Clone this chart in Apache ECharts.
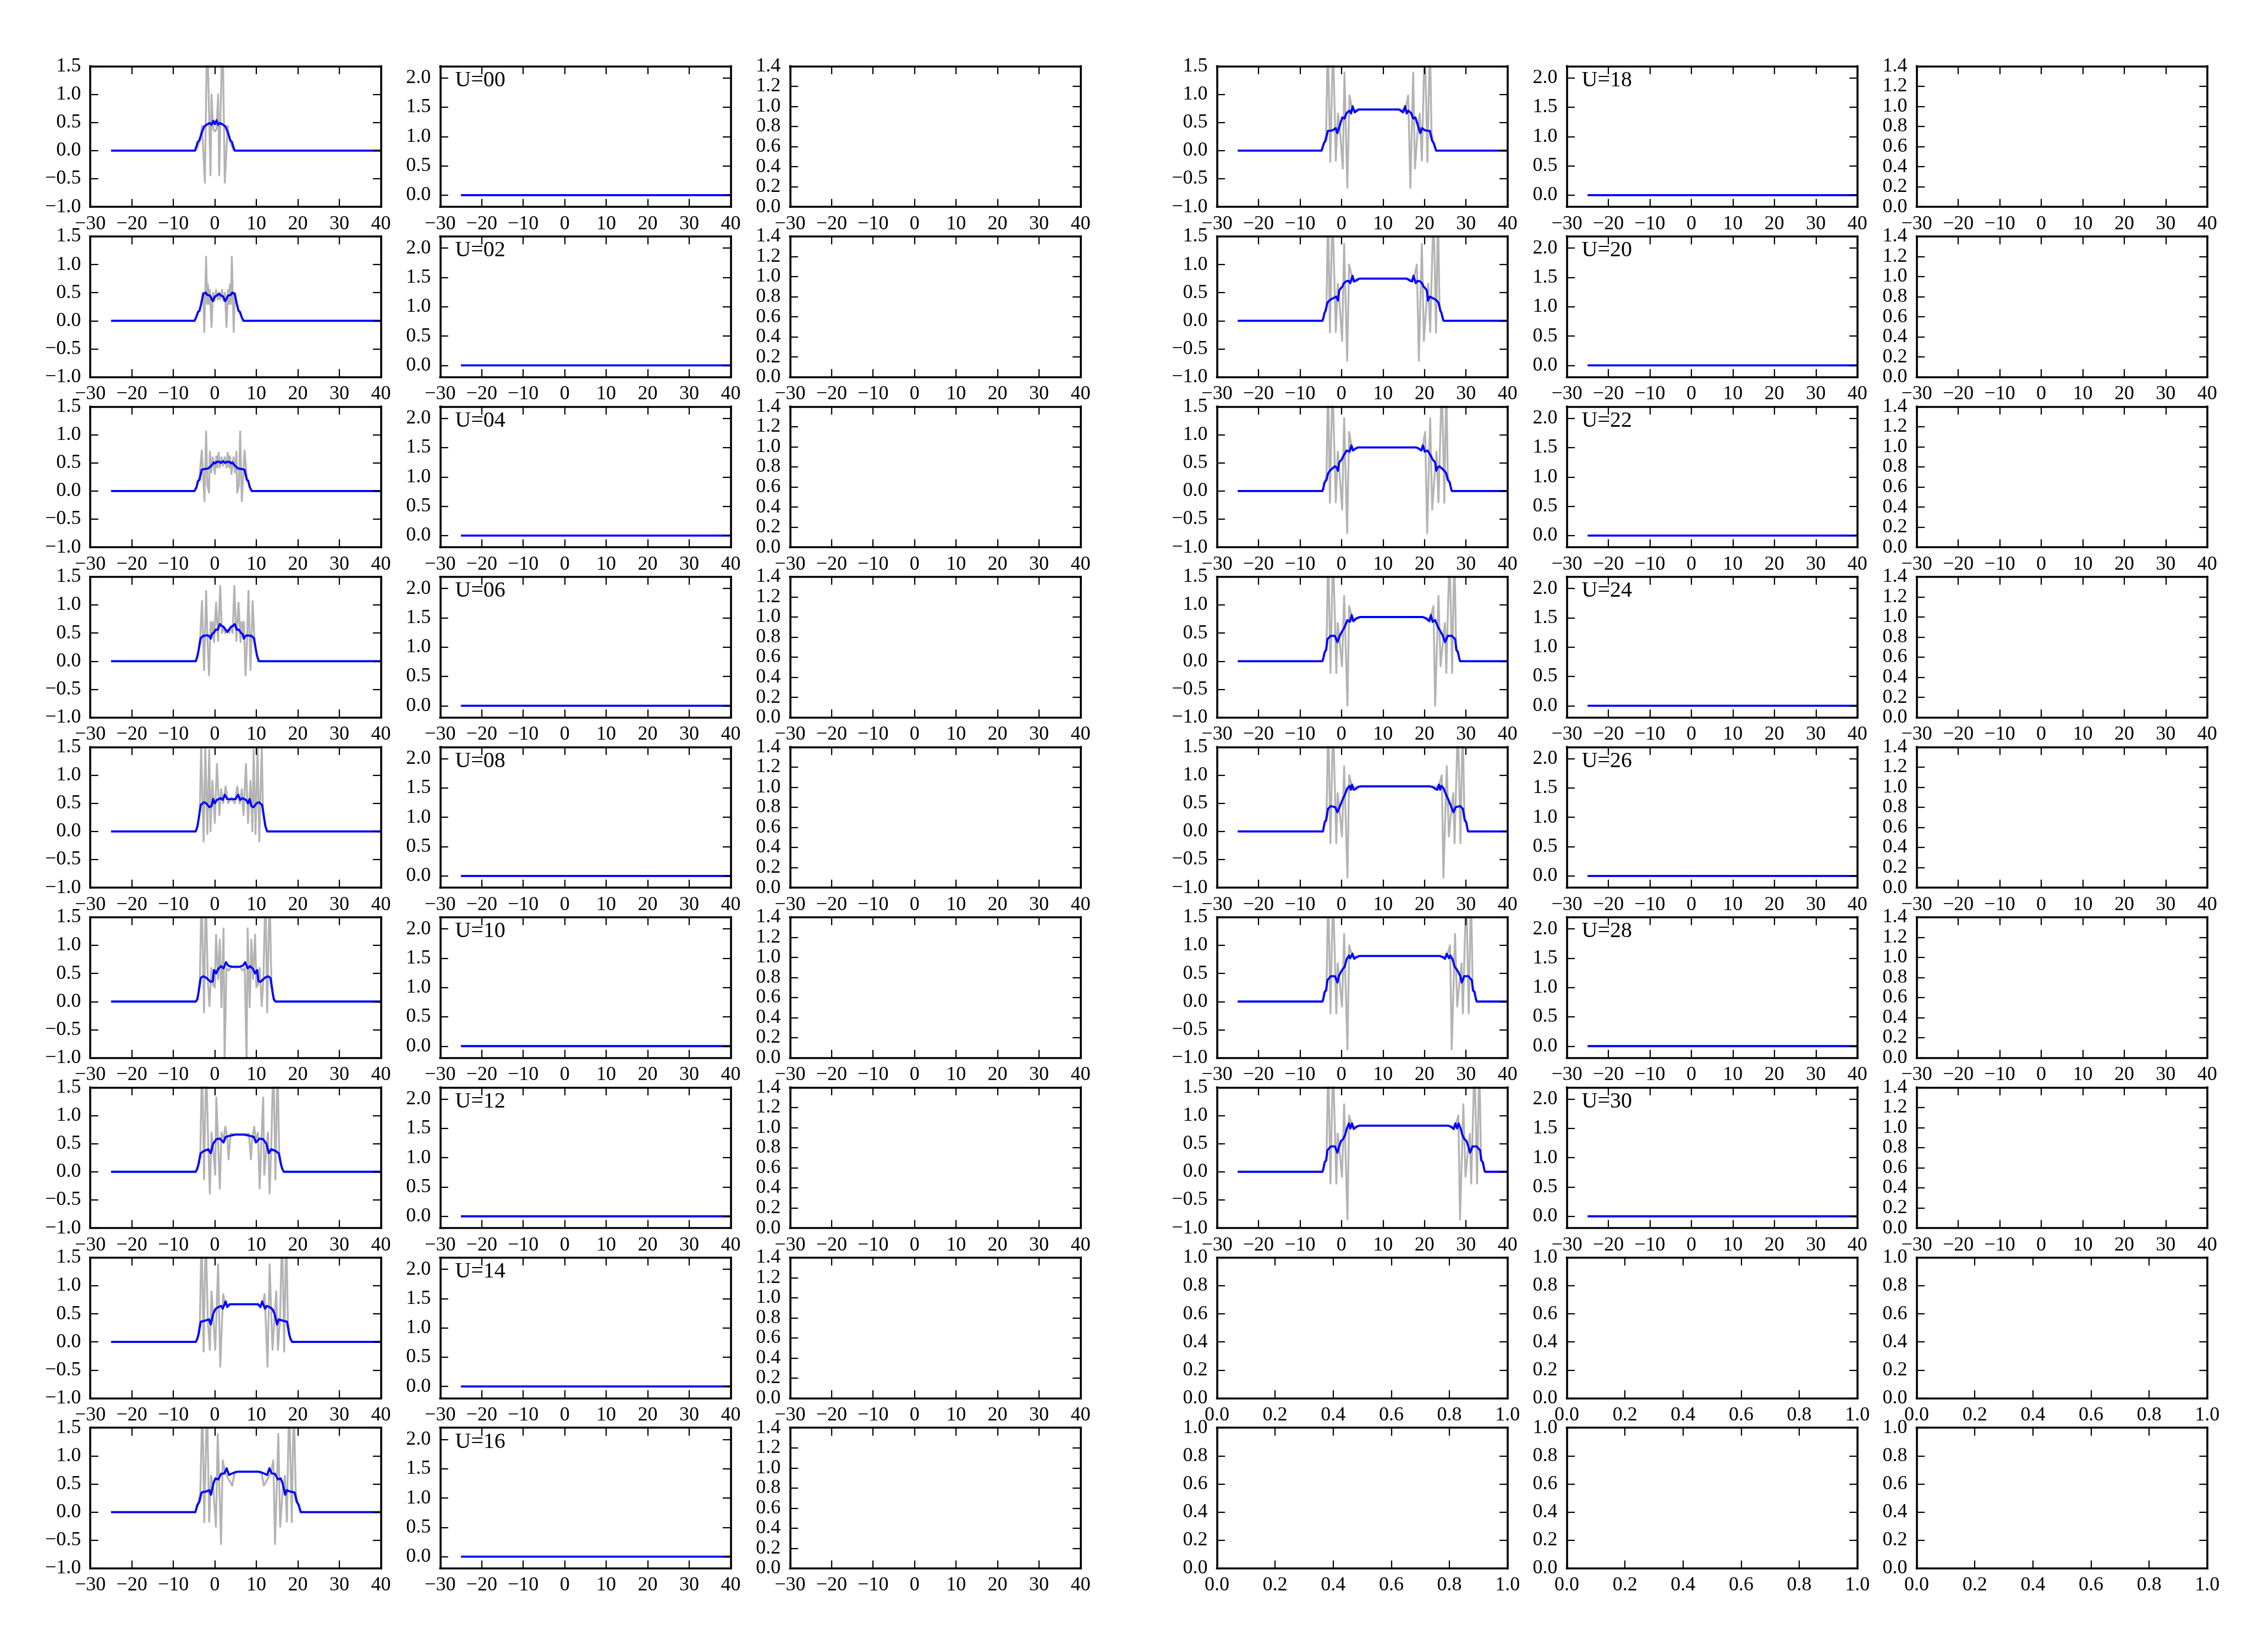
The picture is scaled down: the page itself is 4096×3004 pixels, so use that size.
<!DOCTYPE html>
<html><head><meta charset="utf-8">
<script src="https://cdn.jsdelivr.net/npm/echarts@6/dist/echarts.min.js"></script>
<style>html,body{margin:0;padding:0;background:#fff}#c{width:4096px;height:3004px}</style>
</head><body><div id="c"></div><script>
// ---------------- DATA ----------------
const uLabels = ['U=00','U=02','U=04','U=06','U=08','U=10','U=12','U=14','U=16','U=18','U=20','U=22','U=24','U=26','U=28','U=30'];
const xTicks = [-30,-20,-10,0,10,20,30,40];
const yTicksLabelPanel = [0,0.5,1,1.5,2];
const zeroLine = [[-25,0],[40,0]];

const blueU00 = [[-25,0],[-4.8,0],[-4.4,0.08],[-4.15,0.15],[-3.75,0.18],[-3.2,0.31],[-2.55,0.43],[-1.75,0.47],[-1.2,0.49],[-0.8,0.46],[-0.4,0.53],[0,0.47],[0.4,0.54],[0.8,0.46],[1.2,0.49],[1.75,0.47],[2.55,0.43],[3.2,0.31],[3.75,0.18],[4.15,0.15],[4.4,0.08],[4.8,0],[40,0]];
const grayU00 = [[-25,0],[-4.8,0],[-4.4,0.02],[-3.9,0.12],[-3.5,0.2],[-3.1,0.44],[-2.4,-0.57],[-1.85,2.2],[-1.05,-0.44],[-0.8,1.0],[-0.4,0.38],[0,0.34],[0.4,0.38],[0.8,1.0],[1.05,-0.44],[1.85,2.2],[2.4,-0.57],[3.1,0.44],[3.5,0.2],[3.9,0.12],[4.4,0.02],[4.8,0],[40,0]];

const blueU02 = [[-25,0],[-4.9,0],[-4.45,0.07],[-4.05,0.16],[-3.7,0.18],[-3.3,0.3],[-2.8,0.48],[-2.2,0.5],[-1.8,0.46],[-1.2,0.45],[-0.5,0.35],[0,0.43],[0.5,0.45],[1.0,0.48],[1.5,0.45],[2.0,0.43],[2.5,0.35],[3.2,0.45],[3.8,0.46],[4.2,0.5],[4.8,0.48],[5.3,0.3],[5.7,0.18],[6.05,0.16],[6.45,0.07],[6.9,0],[40,0]];
const grayU02 = [[-25,0],[-4.9,0],[-4.3,0.1],[-3.6,0.2],[-3.1,0.35],[-2.8,0.5],[-2.55,-0.2],[-2.1,1.14],[-1.85,0.3],[-1.65,0.65],[-1.45,0.3],[-1.2,0.55],[-0.8,-0.11],[-0.45,0.5],[-0.1,0.35],[0.3,0.55],[0.7,0.38],[1.0,0.5],[1.3,0.38],[1.7,0.55],[2.1,0.35],[2.45,0.5],[2.8,-0.11],[3.2,0.55],[3.45,0.3],[3.65,0.65],[3.85,0.3],[4.1,1.14],[4.55,-0.2],[4.8,0.5],[5.1,0.35],[5.6,0.2],[6.3,0.1],[6.9,0],[40,0]];

const blueU04 = [[-25,0],[-4.9,0],[-4.45,0.06],[-4.05,0.18],[-3.7,0.2],[-3.15,0.38],[-2.4,0.39],[-1.6,0.40],[-1.0,0.44],[-0.6,0.47],[-0.2,0.51],[0.1,0.49],[0.5,0.52],[1.0,0.52],[1.5,0.5],[2.0,0.53],[2.5,0.5],[3.0,0.52],[3.5,0.52],[3.9,0.49],[4.2,0.51],[4.6,0.47],[5.0,0.44],[5.6,0.4],[6.4,0.39],[7.15,0.38],[7.7,0.2],[8.05,0.18],[8.45,0.06],[8.9,0],[40,0]];
const grayU04 = [[-25,0],[-4.9,0],[-4.3,0.1],[-3.7,0.25],[-3.15,0.72],[-2.5,-0.18],[-2.1,1.06],[-1.8,0.1],[-1.4,-0.03],[-1.2,0.7],[-0.85,0.33],[-0.5,0.6],[0,0.3],[0.35,0.62],[0.6,0.42],[0.9,0.68],[1.2,0.42],[1.6,0.6],[2.0,0.45],[2.4,0.6],[2.8,0.42],[3.1,0.68],[3.4,0.42],[3.65,0.62],[4.0,0.3],[4.5,0.6],[4.85,0.33],[5.2,0.7],[5.4,-0.03],[5.8,0.1],[6.1,1.06],[6.5,-0.18],[7.15,0.72],[7.7,0.25],[8.3,0.1],[8.9,0],[40,0]];

const blueU06 = [[-25,0],[-4.6,0],[-4.2,0.09],[-3.9,0.2],[-3.4,0.41],[-2.8,0.45],[-1.8,0.46],[-1.4,0.45],[-1.0,0.40],[-0.7,0.48],[-0.2,0.51],[0.2,0.56],[0.7,0.56],[1.2,0.66],[1.6,0.63],[2.1,0.61],[3.0,0.52],[3.9,0.61],[4.4,0.63],[4.8,0.66],[5.3,0.56],[5.8,0.56],[6.2,0.51],[6.7,0.48],[7.0,0.40],[7.4,0.45],[7.8,0.46],[8.8,0.45],[9.4,0.41],[9.9,0.2],[10.2,0.09],[10.6,0],[40,0]];
const grayU06 = [[-25,0],[-4.6,0],[-4.1,0.1],[-3.5,0.45],[-3.1,1.07],[-2.6,-0.16],[-2.1,1.25],[-1.75,0.35],[-1.4,-0.25],[-1.0,0.7],[-0.7,0.45],[-0.45,0.7],[-0.2,0.34],[0.3,1.04],[0.8,0.36],[1.3,1.34],[1.7,0.5],[2.1,0.62],[2.5,0.5],[3.0,0.55],[3.5,0.5],[3.9,0.62],[4.3,0.5],[4.7,1.34],[5.2,0.36],[5.7,1.04],[6.2,0.34],[6.45,0.7],[6.7,0.45],[7.0,0.7],[7.4,-0.25],[7.75,0.35],[8.1,1.25],[8.6,-0.16],[9.1,1.07],[9.5,0.45],[10.1,0.1],[10.6,0],[40,0]];

const blueU08 = [[-25,0],[-4.6,0],[-4.2,0.09],[-3.9,0.22],[-3.4,0.47],[-2.6,0.52],[-2.1,0.5],[-1.3,0.43],[-0.8,0.45],[-0.4,0.575],[0,0.5],[0.5,0.56],[1.4,0.59],[1.9,0.56],[2.4,0.65],[3.0,0.575],[4.0,0.57],[5.0,0.575],[5.6,0.65],[6.1,0.56],[6.6,0.59],[7.5,0.56],[8.0,0.5],[8.4,0.575],[8.8,0.45],[9.3,0.43],[10.1,0.5],[10.6,0.52],[11.4,0.47],[11.9,0.22],[12.2,0.09],[12.6,0],[40,0]];
const grayU08 = [[-25,0],[-4.6,0],[-4.1,0.1],[-3.6,0.4],[-3.3,1.5],[-2.7,-0.18],[-2.3,1.5],[-1.8,-0.05],[-1.35,1.45],[-1.05,0.0],[-0.6,0.9],[0,0.15],[0.5,1.2],[1.1,0.29],[1.5,0.75],[2.0,0.5],[2.6,0.8],[3.2,0.5],[4.0,0.6],[4.8,0.5],[5.4,0.8],[6.0,0.5],[6.5,0.75],[6.9,0.29],[7.5,1.2],[8.0,0.15],[8.6,0.9],[9.05,0.0],[9.35,1.45],[9.8,-0.05],[10.3,1.5],[10.7,-0.18],[11.3,1.5],[11.6,0.4],[12.1,0.1],[12.6,0],[40,0]];

const blueU10 = [[-25,0],[-4.6,0],[-4.2,0.04],[-3.9,0.17],[-3.4,0.42],[-2.8,0.45],[-2.0,0.42],[-1.0,0.35],[-0.5,0.36],[-0.2,0.56],[0.3,0.5],[0.8,0.58],[1.5,0.63],[2.1,0.59],[2.7,0.70],[3.2,0.64],[4.0,0.62],[5.0,0.62],[6.0,0.62],[6.8,0.64],[7.3,0.70],[7.9,0.59],[8.5,0.63],[9.2,0.58],[9.7,0.5],[10.2,0.56],[10.5,0.36],[11.0,0.35],[12.0,0.42],[12.8,0.45],[13.4,0.42],[13.9,0.17],[14.2,0.04],[14.6,0],[40,0]];
const grayU10 = [[-25,0],[-4.6,0],[-4.1,0.1],[-3.6,0.4],[-3.2,2.0],[-2.6,-0.19],[-2.2,2.0],[-1.7,0.4],[-1.3,-0.08],[-0.8,0.6],[-0.4,0.3],[0,0.25],[0.3,1.19],[0.8,0.4],[1.2,1.1],[1.6,-0.1],[2.1,1.3],[2.35,-1.1],[2.8,0.6],[3.3,0.55],[4.0,0.62],[5.0,0.6],[6.0,0.62],[6.7,0.55],[7.2,0.6],[7.65,-1.1],[7.9,1.3],[8.4,-0.1],[8.8,1.1],[9.2,0.4],[9.7,1.19],[10.0,0.25],[10.4,0.3],[10.8,0.6],[11.3,-0.08],[11.7,0.4],[12.2,2.0],[12.6,-0.19],[13.2,2.0],[13.6,0.4],[14.1,0.1],[14.6,0],[40,0]];

const blueU12 = [[-25,0],[-4.6,0],[-4.2,0.06],[-3.9,0.14],[-3.4,0.33],[-2.6,0.37],[-1.6,0.40],[-1.0,0.33],[-0.4,0.5],[0.4,0.58],[1.2,0.59],[2.1,0.52],[2.6,0.62],[3.6,0.64],[5.0,0.66],[6.0,0.66],[7.0,0.66],[8.4,0.64],[9.4,0.62],[9.9,0.52],[10.8,0.59],[11.6,0.58],[12.4,0.5],[13.0,0.33],[13.6,0.40],[14.6,0.37],[15.4,0.33],[15.9,0.14],[16.2,0.06],[16.6,0],[40,0]];
const grayU12 = [[-25,0],[-4.6,0],[-4.1,0.1],[-3.5,0.35],[-3.1,2.0],[-2.6,-0.14],[-2.1,2.0],[-1.6,0.5],[-1.2,-0.39],[-0.8,0.7],[-0.4,0.4],[0.1,-0.05],[0.35,1.32],[0.8,0.5],[1.2,-0.3],[1.6,0.7],[2.1,0.55],[2.5,0.8],[3.0,0.6],[3.3,0.22],[3.8,0.68],[5,0.66],[7,0.66],[8.2,0.68],[8.7,0.22],[9.0,0.6],[9.5,0.8],[9.9,0.55],[10.4,0.7],[10.8,-0.3],[11.2,0.5],[11.65,1.32],[11.9,-0.05],[12.4,0.4],[12.8,0.7],[13.2,-0.39],[13.6,0.5],[14.1,2.0],[14.6,-0.14],[15.1,2.0],[15.5,0.35],[16.1,0.1],[16.6,0],[40,0]];

const blueU14 = [[-25,0],[-4.6,0],[-4.2,0.06],[-3.9,0.14],[-3.4,0.36],[-2.8,0.37],[-1.4,0.4],[-1.0,0.31],[-0.4,0.5],[0.1,0.58],[0.8,0.62],[1.5,0.64],[1.9,0.59],[2.6,0.72],[3.0,0.62],[3.6,0.67],[4.5,0.67],[9.5,0.67],[10.4,0.67],[11.0,0.62],[11.4,0.72],[12.1,0.59],[12.5,0.64],[13.2,0.62],[13.9,0.58],[14.4,0.5],[15.0,0.31],[15.4,0.4],[16.8,0.37],[17.4,0.36],[17.9,0.14],[18.2,0.06],[18.6,0],[40,0]];
const grayU14 = [[-25,0],[-4.6,0],[-4.1,0.1],[-3.6,0.35],[-3.2,2.0],[-2.7,-0.17],[-2.2,2.0],[-1.7,0.4],[-1.2,-0.14],[-0.8,0.9],[-0.4,0.45],[0.1,-0.14],[0.8,1.38],[1.3,-0.44],[2.0,0.85],[2.4,0.7],[3.0,0.65],[3.6,0.67],[10.4,0.67],[11.0,0.65],[11.6,0.7],[12.0,0.85],[12.7,-0.44],[13.2,1.38],[13.9,-0.14],[14.4,0.45],[14.8,0.9],[15.2,-0.14],[15.7,0.4],[16.2,2.0],[16.7,-0.17],[17.2,2.0],[17.6,0.35],[18.1,0.1],[18.6,0],[40,0]];

const blueU16 = [[-25,0],[-4.7,0],[-4.2,0.13],[-3.75,0.18],[-3.2,0.35],[-2.0,0.37],[-1.35,0.39],[-0.95,0.31],[-0.3,0.52],[0.15,0.6],[0.8,0.58],[1.5,0.68],[2.3,0.69],[2.85,0.78],[3.4,0.66],[4.2,0.69],[5.5,0.72],[10.5,0.72],[11.8,0.69],[12.6,0.66],[13.15,0.78],[13.7,0.69],[14.5,0.68],[15.2,0.58],[15.85,0.6],[16.3,0.52],[16.95,0.31],[17.35,0.39],[18.0,0.37],[19.2,0.35],[19.75,0.18],[20.2,0.13],[20.7,0],[40,0]];
const grayU16 = [[-25,0],[-4.7,0],[-4.1,0.12],[-3.5,0.35],[-3.0,2.0],[-2.55,-0.18],[-1.9,2.0],[-1.36,-0.17],[-0.9,0.65],[-0.4,0.45],[0.26,-0.26],[0.7,1.39],[1.5,-0.57],[1.9,0.92],[2.5,0.7],[3.2,0.6],[4.2,0.47],[4.8,0.72],[11.2,0.72],[11.8,0.47],[12.8,0.6],[13.5,0.7],[14.1,0.92],[14.5,-0.57],[15.3,1.39],[15.74,-0.26],[16.4,0.45],[16.9,0.65],[17.36,-0.17],[17.9,2.0],[18.55,-0.18],[19.0,2.0],[19.5,0.35],[20.1,0.12],[20.7,0],[40,0]];

const blueU18 = [[-25,0],[-4.8,0],[-4.25,0.13],[-3.8,0.18],[-3.3,0.35],[-2.15,0.36],[-1.4,0.40],[-1.0,0.31],[-0.1,0.52],[0.2,0.59],[0.7,0.57],[1.25,0.67],[1.9,0.71],[2.3,0.66],[2.65,0.79],[3.2,0.68],[4.1,0.73],[5,0.73],[13,0.73],[13.9,0.73],[14.8,0.68],[15.35,0.79],[15.7,0.66],[16.1,0.71],[16.75,0.67],[17.3,0.57],[17.8,0.59],[18.1,0.52],[19.0,0.31],[19.4,0.40],[20.15,0.36],[21.3,0.35],[21.8,0.18],[22.25,0.13],[22.8,0],[40,0]];
const grayU18 = [[-25,0],[-4.8,0],[-4.2,0.12],[-3.7,0.3],[-3.3,2.0],[-2.7,-0.2],[-2.05,2.0],[-1.37,-0.18],[-0.85,0.66],[-0.4,0.4],[0.3,-0.32],[0.72,1.39],[1.4,-0.66],[1.93,0.98],[2.4,0.8],[2.9,0.7],[3.5,0.73],[14.5,0.73],[15.1,0.7],[15.6,0.8],[16.07,0.98],[16.6,-0.66],[17.28,1.39],[17.7,-0.32],[18.4,0.4],[18.85,0.66],[19.37,-0.18],[20.05,2.0],[20.7,-0.2],[21.3,2.0],[21.7,0.3],[22.2,0.12],[22.8,0],[40,0]];

const blueU20 = [[-25,0],[-4.6,0],[-4.4,0.04],[-4.1,0.14],[-3.8,0.18],[-3.4,0.32],[-2.8,0.37],[-1.8,0.41],[-1.3,0.43],[-0.85,0.36],[-0.55,0.54],[-0.15,0.58],[0.25,0.61],[0.5,0.66],[1.05,0.70],[1.65,0.71],[2.1,0.67],[2.65,0.80],[3.0,0.70],[3.45,0.71],[4.3,0.75],[15.7,0.75],[16.55,0.71],[17.0,0.70],[17.35,0.80],[17.9,0.67],[18.35,0.71],[18.95,0.70],[19.5,0.66],[19.75,0.61],[20.15,0.58],[20.55,0.54],[20.85,0.36],[21.3,0.43],[21.8,0.41],[22.8,0.37],[23.4,0.32],[23.8,0.18],[24.1,0.14],[24.4,0.04],[24.6,0],[40,0]];
const grayU20 = [[-25,0],[-4.6,0],[-4.1,0.12],[-3.6,0.3],[-3.25,2.0],[-2.78,-0.21],[-2.18,2.0],[-1.37,-0.2],[-0.89,0.66],[-0.5,0.35],[0.15,-0.36],[0.64,1.37],[1.36,-0.71],[1.84,1.0],[2.3,0.85],[2.8,0.7],[3.4,0.74],[4.2,0.75],[15.8,0.75],[16.6,0.74],[17.2,0.7],[17.7,0.85],[18.16,1.0],[18.64,-0.71],[19.36,1.37],[19.85,-0.36],[20.5,0.35],[20.89,0.66],[21.37,-0.2],[22.18,2.0],[22.78,-0.21],[23.25,2.0],[23.6,0.3],[24.1,0.12],[24.6,0],[40,0]];

const blueU22 = [[-25,0],[-4.6,0],[-4.4,0.04],[-4.1,0.15],[-3.6,0.2],[-3.25,0.31],[-2.8,0.36],[-1.6,0.44],[-1.2,0.42],[-0.85,0.36],[-0.55,0.51],[0.05,0.56],[0.5,0.63],[1.25,0.72],[1.95,0.70],[2.35,0.81],[2.75,0.72],[3.15,0.74],[3.9,0.775],[18.1,0.775],[18.85,0.74],[19.25,0.72],[19.65,0.81],[20.05,0.70],[20.75,0.72],[21.5,0.63],[21.95,0.56],[22.55,0.51],[22.85,0.36],[23.2,0.42],[23.6,0.44],[24.8,0.36],[25.25,0.31],[25.6,0.2],[26.1,0.15],[26.4,0.04],[26.6,0],[40,0]];
const grayU22 = [[-25,0],[-4.6,0],[-4.1,0.12],[-3.6,0.3],[-3.25,2.0],[-2.78,-0.21],[-2.18,2.0],[-1.37,-0.2],[-0.89,0.7],[-0.5,0.35],[0.15,-0.33],[0.64,1.3],[1.36,-0.75],[1.84,1.05],[2.3,0.85],[2.8,0.74],[3.4,0.76],[4.2,0.775],[17.8,0.775],[18.6,0.76],[19.2,0.74],[19.7,0.85],[20.16,1.05],[20.64,-0.75],[21.36,1.3],[21.85,-0.33],[22.5,0.35],[22.89,0.7],[23.37,-0.2],[24.18,2.0],[24.78,-0.21],[25.25,2.0],[25.6,0.3],[26.1,0.12],[26.6,0],[40,0]];

const blueU24 = [[-25,0],[-4.6,0],[-4.4,0.04],[-4.07,0.16],[-3.67,0.2],[-3.4,0.39],[-2.6,0.45],[-1.6,0.45],[-0.97,0.34],[-0.37,0.46],[0.23,0.54],[0.76,0.61],[1.44,0.73],[2.04,0.70],[2.45,0.82],[2.85,0.71],[3.65,0.76],[4.46,0.785],[19.54,0.785],[20.35,0.76],[21.15,0.71],[21.55,0.82],[21.96,0.70],[22.56,0.73],[23.24,0.61],[23.77,0.54],[24.37,0.46],[24.97,0.34],[25.6,0.45],[26.6,0.45],[27.4,0.39],[27.67,0.2],[28.07,0.16],[28.4,0.04],[28.6,0],[40,0]];
const grayU24 = [[-25,0],[-4.6,0],[-4.1,0.12],[-3.6,0.3],[-3.2,2.0],[-2.66,-0.21],[-2.05,2.0],[-1.25,-0.21],[-0.93,0.68],[-0.5,0.4],[0.12,-0.09],[0.64,1.16],[1.44,-0.79],[1.84,0.98],[2.3,0.85],[2.8,0.75],[3.4,0.77],[4.2,0.785],[19.8,0.785],[20.6,0.77],[21.2,0.75],[21.7,0.85],[22.16,0.98],[22.56,-0.79],[23.36,1.16],[23.88,-0.09],[24.5,0.4],[24.93,0.68],[25.25,-0.21],[26.05,2.0],[26.66,-0.21],[27.2,2.0],[27.6,0.3],[28.1,0.12],[28.6,0],[40,0]];

const blueU26 = [[-25,0],[-4.5,0],[-4.4,0.02],[-4.07,0.16],[-3.67,0.2],[-3.26,0.4],[-2.58,0.45],[-1.5,0.43],[-0.97,0.34],[-0.37,0.45],[0.23,0.56],[0.84,0.66],[1.44,0.77],[1.96,0.81],[2.24,0.74],[2.53,0.83],[2.93,0.74],[3.33,0.75],[4.05,0.79],[4.86,0.80],[21.14,0.80],[21.95,0.79],[22.67,0.75],[23.07,0.74],[23.47,0.83],[23.76,0.74],[24.04,0.81],[24.56,0.77],[25.16,0.66],[25.77,0.56],[26.37,0.45],[26.97,0.34],[27.5,0.43],[28.58,0.45],[29.26,0.4],[29.67,0.2],[30.07,0.16],[30.4,0.02],[30.5,0],[40,0]];
const grayU26 = [[-25,0],[-4.5,0],[-4.1,0.12],[-3.6,0.3],[-3.2,2.0],[-2.66,-0.21],[-2.05,2.0],[-1.25,-0.21],[-0.93,0.68],[-0.5,0.4],[0.12,-0.09],[0.64,1.16],[1.44,-0.82],[1.84,1.0],[2.3,0.87],[2.8,0.78],[3.4,0.79],[4.2,0.80],[21.8,0.80],[22.6,0.79],[23.2,0.78],[23.7,0.87],[24.16,1.0],[24.56,-0.82],[25.36,1.16],[25.88,-0.09],[26.5,0.4],[26.93,0.68],[27.25,-0.21],[28.05,2.0],[28.66,-0.21],[29.2,2.0],[29.6,0.3],[30.1,0.12],[30.5,0],[40,0]];

const blueU28 = [[-25,0],[-4.6,0],[-4.4,0.04],[-4.07,0.17],[-3.67,0.2],[-3.4,0.38],[-2.58,0.45],[-1.57,0.45],[-0.97,0.34],[-0.65,0.45],[-0.17,0.52],[0.23,0.57],[0.76,0.62],[1.24,0.75],[1.8,0.82],[2.1,0.77],[2.65,0.85],[3.05,0.76],[3.65,0.79],[4.26,0.81],[23.74,0.81],[24.35,0.79],[24.95,0.76],[25.35,0.85],[25.9,0.77],[26.2,0.82],[26.76,0.75],[27.24,0.62],[27.77,0.57],[28.17,0.52],[28.65,0.45],[28.97,0.34],[29.57,0.45],[30.58,0.45],[31.4,0.38],[31.67,0.2],[32.07,0.17],[32.4,0.04],[32.6,0],[40,0]];
const grayU28 = [[-25,0],[-4.6,0],[-4.1,0.12],[-3.6,0.3],[-3.2,2.0],[-2.66,-0.21],[-2.05,2.0],[-1.25,-0.21],[-0.93,0.68],[-0.5,0.4],[0.12,-0.09],[0.64,1.2],[1.44,-0.85],[1.84,1.0],[2.3,0.88],[2.8,0.79],[3.4,0.8],[4.2,0.81],[23.8,0.81],[24.6,0.8],[25.2,0.79],[25.7,0.88],[26.16,1.0],[26.56,-0.85],[27.36,1.2],[27.88,-0.09],[28.5,0.4],[28.93,0.68],[29.25,-0.21],[30.05,2.0],[30.66,-0.21],[31.2,2.0],[31.6,0.3],[32.1,0.12],[32.6,0],[40,0]];

const blueU30 = [[-25,0],[-4.6,0],[-4.4,0.04],[-4.07,0.17],[-3.67,0.2],[-3.4,0.38],[-2.58,0.45],[-1.57,0.45],[-0.97,0.34],[-0.6,0.44],[-0.1,0.55],[0.4,0.58],[0.9,0.66],[1.3,0.77],[1.8,0.86],[2.15,0.77],[2.55,0.86],[2.95,0.76],[3.65,0.8],[4.3,0.82],[25.7,0.82],[26.35,0.8],[27.05,0.76],[27.45,0.86],[27.85,0.77],[28.2,0.86],[28.7,0.77],[29.1,0.66],[29.6,0.58],[30.1,0.55],[30.6,0.44],[30.97,0.34],[31.57,0.45],[32.58,0.45],[33.4,0.38],[33.67,0.2],[34.07,0.17],[34.4,0.04],[34.6,0],[40,0]];
const grayU30 = [[-25,0],[-4.6,0],[-4.1,0.12],[-3.6,0.3],[-3.2,2.0],[-2.66,-0.21],[-2.05,2.0],[-1.25,-0.21],[-0.93,0.68],[-0.5,0.4],[0.12,-0.09],[0.64,1.2],[1.44,-0.85],[1.84,1.0],[2.3,0.88],[2.8,0.8],[3.4,0.81],[4.2,0.82],[25.8,0.82],[26.6,0.81],[27.2,0.8],[27.7,0.88],[28.16,1.0],[28.56,-0.85],[29.36,1.2],[29.88,-0.09],[30.5,0.4],[30.93,0.68],[31.25,-0.21],[32.05,2.0],[32.66,-0.21],[33.2,2.0],[33.6,0.3],[34.1,0.12],[34.6,0],[40,0]];

const blueSeries = [blueU00,blueU02,blueU04,blueU06,blueU08,blueU10,blueU12,blueU14,blueU16,blueU18,blueU20,blueU22,blueU24,blueU26,blueU28,blueU30];
const graySeries = [grayU00,grayU02,grayU04,grayU06,grayU08,grayU10,grayU12,grayU14,grayU16,grayU18,grayU20,grayU22,grayU24,grayU26,grayU28,grayU30];

// ---------------- LAYOUT / STYLE ----------------
const S = 4096/4500;
const colLeft = [180.4, 879.2, 1578.0, 2430.7, 3129.5, 3828.3];
const rowTop0 = 132.3, rowStep = 340, plotW = 580.3, plotH = 281;
const FONT = 'Liberation Serif', FS = 36;
const BLUE = '#0000ff', GRAY = '#b3b3b3';

const RX = {min:-30, max:40, interval:10, dec:0};
const RY_DATA = {min:-1, max:1.5, interval:0.5, dec:1};
const RY_LAB = {min:-0.2, max:2.2, custom:yTicksLabelPanel, dec:1};
const RY_EMPTY = {min:0, max:1.4, interval:0.2, dec:1};
const R_UNIT = {min:0, max:1, interval:0.2, dec:1};

function fmt(v, dec){
  let s = dec ? Number(v).toFixed(dec) : String(Math.round(v));
  if (s === '-0.0' || s === '-0') s = s.slice(1);
  return s.replace('-', '\u2212');
}

const grids=[], xAxes=[], yAxes=[], series=[], graphics=[];
function makeAxis(gi, pos, r){
  const isX = (pos==='bottom'||pos==='top');
  const showLab = (pos==='bottom'||pos==='left');
  const a = {gridIndex:gi, type:'value', position:pos, min:r.min, max:r.max, z:10,
    axisLine:{show:true, onZero:false, lineStyle:{color:'#000', width:3.6, cap:'square'}},
    axisTick:{show:true, inside:true, length:14.5, lineStyle:{color:'#000', width:2.2}},
    splitLine:{show:false},
    axisLabel:{show:showLab, margin: isX?13:17, color:'#000', fontFamily:FONT, fontSize:FS,
      showMinLabel:true, showMaxLabel:true, hideOverlap:false, formatter:(v)=>fmt(v, r.dec)}};
  if (r.custom){ a.axisTick.customValues = r.custom; a.axisLabel.customValues = r.custom; }
  else a.interval = r.interval;
  return a;
}
function addPanel(col, row, xr, yr, lines, label){
  const gi = grids.length;
  const left = colLeft[col]*S, top = (rowTop0 + row*rowStep)*S;
  grids.push({left:left, top:top, width:plotW*S, height:plotH*S, show:false, containLabel:false});
  const xi = xAxes.length;
  xAxes.push(makeAxis(gi,'bottom',xr)); xAxes.push(makeAxis(gi,'top',xr));
  const yi = yAxes.length;
  yAxes.push(makeAxis(gi,'left',yr)); yAxes.push(makeAxis(gi,'right',yr));
  lines.forEach(l => series.push({type:'line', xAxisIndex:xi, yAxisIndex:yi, data:l.data,
    showSymbol:false, symbol:'none', clip:true, animation:false, silent:true, z:l.z,
    lineStyle:{color:l.color, width:l.width, join:'round'}}));
  if (label) graphics.push({type:'text', left:left+27, top:top+6, z:100,
    style:{text:label, font:'40px "Liberation Serif"', fill:'#000'}});
}

for (let i=0;i<16;i++){
  const group = i<9 ? 0 : 1;
  const row = i<9 ? i : i-9;
  const c0 = group*3;
  addPanel(c0, row, RX, RY_DATA, [
    {data:graySeries[i], color:GRAY, width:3.4, z:2},
    {data:blueSeries[i], color:BLUE, width:3.8, z:3}]);
  addPanel(c0+1, row, RX, RY_LAB, [{data:zeroLine, color:BLUE, width:3.8, z:3}], uLabels[i]);
  addPanel(c0+2, row, RX, RY_EMPTY, []);
}
for (let row=7; row<9; row++) for (let c=3;c<6;c++) addPanel(c, row, R_UNIT, R_UNIT, []);

const chart = echarts.init(document.getElementById('c'), null, {renderer:'canvas', width:4096, height:3004});
chart.setOption({animation:false, backgroundColor:'#fff', grid:grids, xAxis:xAxes, yAxis:yAxes, series:series, graphic:graphics});
</script></body></html>
